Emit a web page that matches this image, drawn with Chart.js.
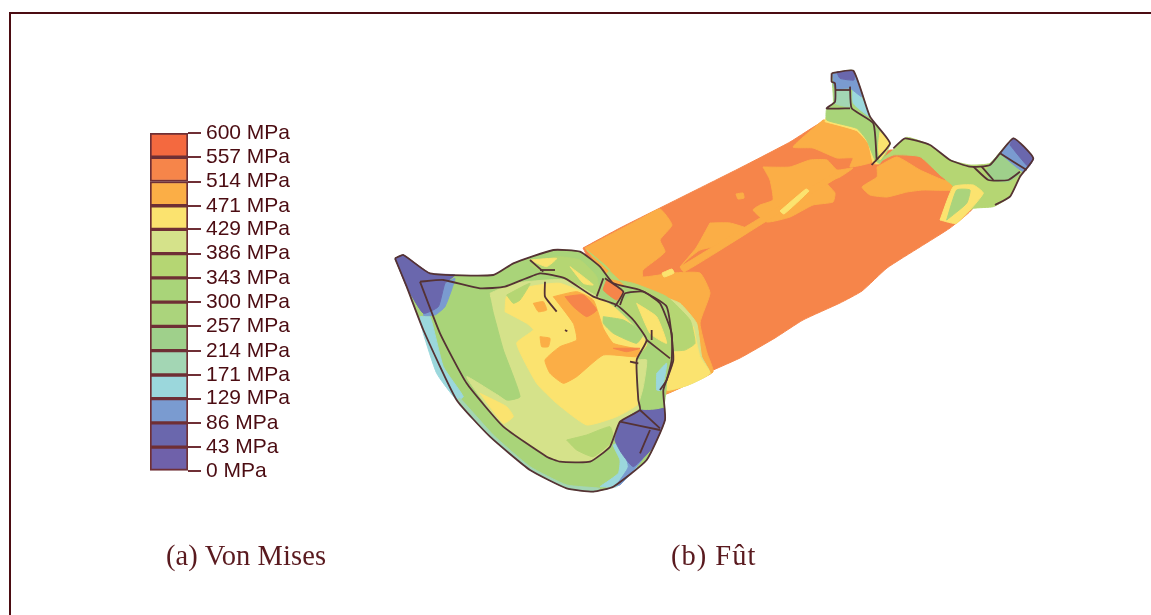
<!DOCTYPE html>
<html lang="fr">
<head>
<meta charset="utf-8">
<title>Von Mises - Fût</title>
<script src="https://cdn.jsdelivr.net/npm/chart.js@4"></script>
<style>
  html, body { margin: 0; background: #fff; overflow: hidden; }
  #page { position: relative; width: 1151px; height: 615px; overflow: hidden; }
  #cadre { position: absolute; left: 9px; top: 12px; width: 1200px; height: 700px;
           border-left: 2px solid #4b0c12; border-top: 2px solid #4b0c12; }
  #carte { position: absolute; left: 0; top: 0; filter: blur(0.7px); }
  #echelle { position: absolute; left: 130px; top: 115px; filter: blur(0.4px); }
  .legende { position: absolute; top: 540px; font: 28.5px "Liberation Serif", serif; letter-spacing: 0.1px; color: #5a1a1f; white-space: nowrap; }
</style>
</head>
<body>
<div id="page">
  <div id="cadre"></div>
  <canvas id="carte" width="1151" height="615"></canvas>
  <canvas id="echelle" width="168" height="374"></canvas>
  <div class="legende" style="left:166px">(a) Von Mises</div>
  <div class="legende" style="left:671px;letter-spacing:1px">(b) Fût</div>
</div>
<script>
// Echelle de contraintes (MPa)
const niveaux = [0, 43, 86, 129, 171, 214, 257, 300, 343, 386, 429, 471, 514, 557, 600];
const couleurs = ['#6f61aa', '#6a67ad', '#7a9bd0', '#9bd7dc', '#a3d6b4', '#9fd08b', '#abd47c', '#a9d479',
                  '#b5d673', '#d5e28a', '#fbe36f', '#fbae46', '#f6854a', '#f4693f'];
const trait = '#553234';

// Zones du fût, en unités de la vue
const futBase = [[583,248],[620,228],[680,198],[740,168],[790,142],[824,121],[850,118],[873,125],[875,160],[890,150],[930,155],[975,175],[973,208],[950,228],[920,247],[887,268],[862,291],[840,303],[803,320],[775,338],[740,358],[700,376],[680,388],[660,395],[640,320],[600,280]];
const futHaut = [[823,120],[793,147],[813,148],[837,158],[853,158],[850,167],[870,163],[877,157],[867,137],[853,127],[837,120]];
const futMilieu = [[763,167],[790,167],[810,160],[827,160],[837,170],[853,168],[840,177],[827,183],[835,193],[833,202],[813,205],[790,217],[767,222],[753,210],[760,205],[773,200],[770,180]];
const futDroite = [[877,167],[897,157],[920,170],[943,180],[957,183],[953,190],[923,190],[907,192],[887,197],[870,195],[862,187],[877,177]];
const futTriangle = [[710,223],[730,223],[750,230],[730,243],[700,250],[687,260],[680,267],[696,248]];
const futBande = [[680,267],[760,218],[835,173],[838,177],[765,222],[684,272]];
const futGauche = [[585,248],[640,219],[660,209],[672,225],[660,240],[665,252],[643,270],[643,277],[673,273],[700,273],[710,293],[700,323],[707,353],[713,372],[687,385],[660,394],[647,340],[613,285]];
const futEclat = [[780,211],[806,189],[809,191],[784,214]];
const futEclat2 = [[662,273],[672,269],[674,273],[664,277]];
const futPoint = [[736,194],[743,193],[744,198],[738,199]];

const teteContour = [[45,55],[70,45],[150,100],[340,105],[400,70],[520,30],[600,35],[660,80],[700,130],[780,150],[860,200],[880,360],[850,450],[855,540],[800,660],[700,740],[640,755],[560,745],[450,690],[330,590],[230,480],[130,270],[80,140]];
const teteJauneClair = [[850,170],[900,190],[950,250],[965,350],[990,400],[925,435],[860,450],[850,420]];
const teteJauneDroit = [[940,260],[960,350],[990,400],[925,435],[860,450],[870,360]];
const teteVertExt = [[620,30],[690,90],[670,110],[760,130],[860,170],[930,240],[945,310],[915,330],[880,330],[800,200]];
const teteCyan = [[120,230],[150,230],[190,380],[250,470],[230,480],[170,400],[130,280]];
const teteBordBas = [[230,480],[330,590],[450,690],[560,745],[640,755],[660,745],[560,735],[450,680],[340,585],[240,475]];
const teteCentre = [[330,160],[400,130],[560,120],[700,200],[800,300],[770,360],[780,500],[720,545],[690,620],[630,665],[540,665],[500,650],[370,560],[260,410],[380,480],[420,470],[370,330],[340,220]];
const teteVertFonce = [[190,140],[320,150],[340,220],[370,330],[420,470],[380,480],[290,410],[250,400],[190,290],[170,220]];
const teteJaune = [[375,215],[440,250],[460,270],[410,310],[470,430],[530,490],[620,555],[710,530],[775,490],[770,370],[800,310],[700,200],[540,130],[450,140],[380,170]];
const tetePatchVert = [[380,165],[450,130],[420,180],[400,190]];
const teteOrange = [[520,170],[590,155],[640,180],[670,265],[700,310],[780,330],[770,350],[670,345],[590,410],[550,430],[510,400],[495,360],[540,320],[590,300],[580,250]];
const teteOrangeFonce = [[555,170],[610,165],[650,210],[620,230],[580,200]];
const teteTrainee = [[700,325],[780,325],[740,335]];
const teteTache1 = [[480,290],[510,295],[505,320],[485,320]];
const teteTache2 = [[460,190],[490,185],[500,210],[475,215]];
const teteVertDroit = [[670,230],[730,240],[790,280],[770,310],[700,280],[670,250]];
const teteJauneBas = [[300,460],[380,500],[400,530],[370,550]];
const teteVertBas = [[560,600],[620,585],[690,560],[700,600],[640,650],[590,630]];
const teteBleuHaut = [[195,130],[225,115],[195,200],[165,225],[130,225]];
const teteVioletHaut = [[45,55],[70,45],[150,100],[225,105],[195,130],[175,200],[130,220],[80,140]];
const teteCyanBas = [[660,740],[715,700],[720,660],[700,615],[730,610],[770,680],[710,740]];
const teteBleuBas = [[720,605],[735,590],[790,650],[720,735],[710,735],[745,680]];
const teteVioletBas = [[720,545],[780,510],[850,505],[855,540],[820,620],[760,680],[725,640],[705,600]];
const teteBande = [[800,320],[860,350],[850,500],[780,505],[770,360]];
const teteBandeCyan = [[830,400],[860,370],[845,450],[830,450]];
const teteBandeClair = [[770,360],[800,360],[790,440],[775,490]];
const teteLobeHaut = [[450,75],[530,50],[600,60],[650,110],[655,165],[590,130],[540,110],[480,90]];
const teteLobeJaune1 = [[450,60],[530,55],[500,80]];
const teteLobeJaune2 = [[570,80],[610,110],[640,135],[610,130]];
const teteLobeOrange = [[680,120],[730,155],[710,180],[670,150]];
const teteLobeBas = [[720,190],[770,155],[830,180],[870,280],[870,360],[810,300],[760,240]];
const teteLobeBasJaune = [[770,190],[830,230],[860,310],[810,280]];

const brasDroit = [[590,310],[640,270],[680,232],[750,255],[810,300],[870,315],[930,310],[1000,235],[1060,295],[1020,350],[990,410],[940,440],[880,445],[830,470],[820,380],[780,345],[720,290],[640,285]];
const brasJaune = [[780,480],[820,380],[880,375],[910,400],[830,490]];
const brasVert = [[800,480],[830,390],[870,390],[860,430]];
const brasCase = [[920,330],[960,280],[1020,340],[985,365],[930,360]];
const brasBleu = [[960,280],[1000,235],[1060,295],[1030,335]];
const brasViolet = [[990,255],[1000,235],[1060,295],[1045,320]];
const brasHautFrange = [[435,185],[530,212],[565,250],[580,310],[600,310],[580,220],[500,180],[440,170]];
const brasHaut = [[455,40],[520,32],[570,170],[630,250],[600,310],[585,300],[560,240],[530,205],[440,180],[440,145],[460,130]];
const brasHautBleu = [[458,42],[520,36],[545,110],[510,85],[465,85]];
const brasHautViolet = [[470,36],[520,34],[522,60],[480,55]];
const brasHautCyan = [[520,60],[570,170],[520,130]];
const brasHautCase = [[465,90],[510,90],[510,140],[465,130]];
const brasHautJaune = [[600,215],[630,250],[600,300],[595,260]];

// Traits de découpe
const ligneInterieure = [[120,125],[190,120],[300,145],[375,140],[480,100],[555,115],[640,170],[710,195],[760,240],[800,300],[770,360],[775,480],[780,510],[720,545],[690,620],[630,665],[540,665],[500,650],[370,560],[260,430],[180,280],[120,125]];
const ligneA = [[495,125],[495,170],[530,215]];
const ligneB = [[450,60],[490,95]];
const ligneC = [[480,90],[525,90]];
const ligneD = [[670,115],[650,170]];
const ligneE = [[675,115],[730,155],[705,200]];
const ligneF = [[720,195],[735,160],[790,155],[840,190],[875,280],[875,360],[860,420],[840,450]];
const ligneG = [[800,300],[870,355]];
const ligneH = [[815,270],[815,300]];
const ligneI = [[750,365],[775,370]];
const ligneJ = [[720,545],[840,570]];
const ligneK = [[780,510],[840,565]];
const ligneL = [[810,570],[780,640]];
const ligneM = [[555,270],[562,274]];
const ligneBrasA = [[455,40],[520,32],[570,170],[630,250],[575,315]];
const ligneBrasB = [[455,40],[455,65],[465,70],[465,125],[440,145],[510,145]];
const ligneBrasC = [[510,80],[515,145],[580,190],[590,300]];
const ligneBrasD = [[465,90],[510,90]];
const ligneBrasE = [[640,265],[675,235],[750,255],[810,300],[870,320],[930,315],[1000,235],[1060,295],[1020,350],[990,410],[945,435]];
const ligneBrasF = [[880,320],[925,360],[985,360],[1020,335]];
const ligneBrasG = [[960,280],[1040,330]];
const ligneBrasH = [[905,320],[940,360]];

// Passage des agrandissements aux unités de la vue
const vue = pts => pts.map(([x, y]) => ({ x, y }));
const tete = pts => pts.map(([x, y]) => ({ x: 380 + x / 3, y: 240 + y / 3 }));
const bras = pts => pts.map(([x, y]) => ({ x: 680 + x / 3, y: 60 + y / 3 }));

// Ordre de dessin : du fond vers le dessus, [indice de bande, points]
const zones = [
  [12, vue(futBase)], [11, vue(futHaut)], [11, vue(futMilieu)], [11, vue(futDroite)], [11, vue(futTriangle)],
  [11, vue(futBande)], [11, vue(futGauche)], [11, vue(futPoint)], [10, vue(futEclat)], [10, vue(futEclat2)],
  [9, tete(teteJauneClair)], [10, tete(teteJauneDroit)], [8, tete(teteVertExt)],
  [7, tete(teteContour)], [3, tete(teteCyan)], [4, tete(teteBordBas)], [9, tete(teteCentre)], [7, tete(teteVertFonce)],
  [10, tete(teteJaune)], [8, tete(tetePatchVert)], [11, tete(teteOrange)], [12, tete(teteOrangeFonce)], [12, tete(teteTrainee)],
  [11, tete(teteTache1)], [11, tete(teteTache2)], [7, tete(teteVertDroit)], [10, tete(teteJauneBas)], [8, tete(teteVertBas)],
  [2, tete(teteBleuHaut)], [1, tete(teteVioletHaut)], [3, tete(teteCyanBas)], [2, tete(teteBleuBas)], [1, tete(teteVioletBas)],
  [7, tete(teteBande)], [3, tete(teteBandeCyan)], [9, tete(teteBandeClair)],
  [8, tete(teteLobeHaut)], [10, tete(teteLobeJaune1)], [10, tete(teteLobeJaune2)], [12, tete(teteLobeOrange)],
  [8, tete(teteLobeBas)], [10, tete(teteLobeBasJaune)],
  [8, bras(brasDroit)], [10, bras(brasJaune)], [6, bras(brasVert)], [5, bras(brasCase)], [2, bras(brasBleu)], [1, bras(brasViolet)],
  [10, bras(brasHautFrange)], [7, bras(brasHaut)], [3, bras(brasHautCyan)], [4, bras(brasHautCase)], [2, bras(brasHautBleu)], [1, bras(brasHautViolet)], [10, bras(brasHautJaune)]
];
const traits = [
  tete(teteContour.concat([teteContour[0]])), tete(ligneInterieure), tete(ligneA), tete(ligneB), tete(ligneC), tete(ligneD), tete(ligneE),
  tete(ligneF), tete(ligneG), tete(ligneH), tete(ligneI), tete(ligneJ), tete(ligneK), tete(ligneL), tete(ligneM),
  bras(ligneBrasA), bras(ligneBrasB), bras(ligneBrasC), bras(ligneBrasD), bras(ligneBrasE), bras(ligneBrasF), bras(ligneBrasG), bras(ligneBrasH)
];

const jeux = [];
zones.forEach(([bande, pts]) => {
  jeux.push({ data: pts.concat([pts[0]]), showLine: true, fill: 'shape', tension: 0.15, pointRadius: 0,
              backgroundColor: couleurs[bande], borderColor: couleurs[bande], borderWidth: 1 });
});
traits.forEach(pts => {
  jeux.push({ data: pts, showLine: true, fill: false, tension: 0.15, pointRadius: 0, borderColor: trait, borderWidth: 1.8 });
});
// Chart.js dessine le premier jeu au-dessus : on inverse
jeux.reverse();

new Chart(document.getElementById('carte'), {
  type: 'scatter',
  data: { datasets: jeux },
  options: {
    responsive: false,
    animation: false,
    layout: { padding: 0 },
    plugins: { legend: { display: false }, tooltip: { enabled: false } },
    scales: {
      x: { type: 'linear', display: false, min: 0, max: 1151 },
      y: { type: 'linear', display: false, min: 0, max: 615, reverse: true }
    }
  }
});

// Barre de couleurs
const bandes = couleurs.map((c, i) => ({
  data: [[niveaux[i], niveaux[i + 1]]],
  backgroundColor: c,
  borderColor: '#6f2f35',
  borderWidth: 2,
  borderSkipped: false,
  barPercentage: 1,
  categoryPercentage: 1
}));

new Chart(document.getElementById('echelle'), {
  type: 'bar',
  data: { labels: ['Von Mises'], datasets: bandes },
  options: {
    responsive: false,
    animation: false,
    layout: { padding: { left: 20, top: 18, bottom: 11, right: 0 } },
    plugins: { legend: { display: false }, tooltip: { enabled: false } },
    scales: {
      x: { display: false, stacked: true },
      y: {
        position: 'right',
        min: 0,
        max: 600,
        afterBuildTicks: axis => { axis.ticks = niveaux.map(v => ({ value: v })); },
        afterFit: axis => { axis.width = 110; },
        border: { display: false },
        grid: { drawOnChartArea: false, drawTicks: true, tickLength: 13, tickColor: '#6f2f35', lineWidth: 2 },
        ticks: {
          autoSkip: false,
          padding: 5,
          color: '#4b0c12',
          font: { family: '"Liberation Sans"', size: 21 },
          callback: v => `${v} MPa`
        }
      }
    }
  }
});
</script>
</body>
</html>
